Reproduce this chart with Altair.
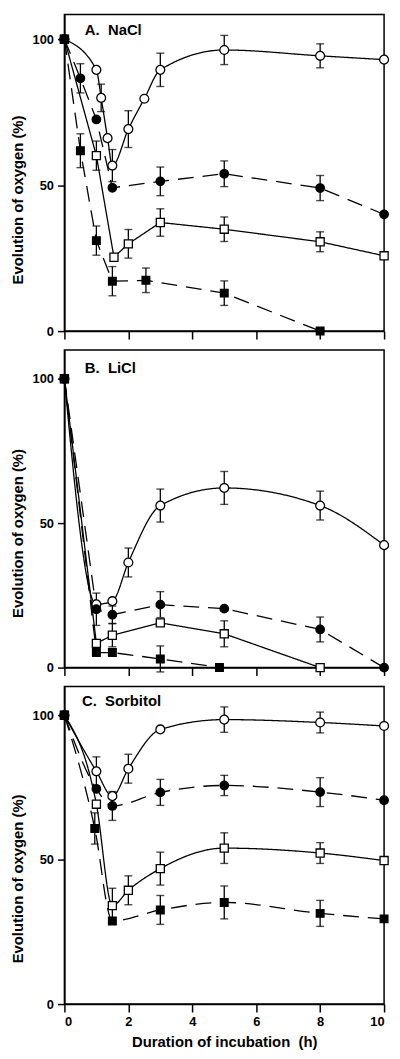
import altair as alt
import pandas as pd

FONT = "Liberation Sans"
SERIES = ["oc", "fc", "os", "fs"]  # open circle, filled circle, open square, filled square

# ---------------- Panel A: NaCl ----------------
A_oc_x = [0, 1, 1.15, 1.35, 1.5, 2, 2.5, 3, 5, 8, 10]
A_oc_y = [100, 89.5, 79.9, 66.1, 56.7, 69.2, 79.6, 89.5, 96.3, 94.3, 93]
A_oc_e = [None, None, 4.7, None, 5.5, 6.3, None, 5.7, 5, 4.1, None]

A_fc_x = [0, 0.5, 1, 1.5, 3, 5, 8, 10]
A_fc_y = [100, 86.6, 72.5, 49.1, 51.3, 53.9, 49, 40]
A_fc_e = [None, 5, None, None, 4.9, 4.4, 4.3, None]

A_os_x = [0, 1, 1.55, 2, 3, 5, 8, 10]
A_os_y = [100, 60.1, 25.3, 29.9, 37.2, 34.9, 30.6, 25.8]
A_os_e = [None, 5, None, 4.9, 4.7, 4.2, 3.4, None]

A_fs_x = [0, 0.5, 1, 1.5, 2.55, 5, 8]
A_fs_y = [100, 61.8, 31, 17.1, 17.4, 13, 0]
A_fs_e = [None, 5.8, 5, 5, 4.2, 4.2, None]

# ---------------- Panel B: LiCl ----------------
B_oc_x = [0, 1, 1.5, 2, 3, 5, 8, 10]
B_oc_y = [100, 21.9, 23, 36.4, 56.1, 62.2, 56.1, 42.4]
B_oc_e = [None, None, None, 5, 5.7, 5.7, 5, None]

B_fc_x = [0, 1, 1.5, 3, 5, 8, 10]
B_fc_y = [100, 20.2, 18.3, 21.8, 20.4, 13.2, 0]
B_fc_e = [None, 5.6, 3, 4.5, None, 4.3, None]

B_os_x = [0, 1, 1.5, 3, 5, 8]
B_os_y = [100, 8.4, 11.2, 15.5, 11.7, 0]
B_os_e = [None, None, 4, None, 4.5, None]

B_fs_x = [0, 1, 1.5, 3, 4.85]
B_fs_y = [100, 5.2, 5.2, 3, 0]
B_fs_e = [None, None, None, 4.5, None]

# ---------------- Panel C: Sorbitol ----------------
C_oc_x = [0, 1, 1.5, 2, 3, 5, 8, 10]
C_oc_y = [100, 80.6, 72, 81.5, 95.1, 98.5, 97.5, 96.3]
C_oc_e = [None, 5, None, 5, None, 4.4, 3.6, None]

C_fc_x = [0, 1, 1.5, 3, 5, 8, 10]
C_fc_y = [100, 74.5, 68.6, 73.3, 75.7, 73.4, 70.6]
C_fc_e = [None, None, 5, 4.5, 3.5, 5, None]

C_os_x = [0, 1, 1.5, 2, 3, 5, 8, 10]
C_os_y = [100, 69.2, 34.1, 39.4, 46.9, 54, 52.3, 49.7]
C_os_e = [None, None, 6, 5, 5.7, 5.3, 3.6, None]

C_fs_x = [0, 0.95, 1.5, 3, 5, 8, 10]
C_fs_y = [100, 60.8, 28.8, 32.6, 35.2, 31.4, 29.5]
C_fs_e = [None, 5.4, None, 5, 5.7, 4.5, None]

PANEL_LABELS = ["A.\u00a0 NaCl", "B.\u00a0 LiCl", "C.\u00a0 Sorbitol"]
LABEL_X = [0.64, 0.64, 0.55]
LABEL_Y = [103.2, 103.6, 104.8]

X_TICKS = [0, 2, 4, 6, 8, 10]
Y_TICKS = [0, 50, 100]


def build(series_data):
    rows = []
    for s, (xs, ys, es) in series_data.items():
        for x, y, e in zip(xs, ys, es):
            rows.append({
                "series": s, "h": x, "v": y,
                "lo": (y - e) if e is not None else None,
                "hi": (y + e) if e is not None else None,
            })
    return pd.DataFrame(rows)


def panel(df, label_idx, ymax, height, interp, show_x, title_y):
    x_axis = alt.Axis(values=X_TICKS, grid=False, tickSize=8, labels=show_x, labelFontSize=13,
                      labelFontWeight="bold", labelPadding=4, titleFontSize=15,
                      titleFontWeight="bold", titlePadding=6,
                      title="Duration of incubation\u00a0 (h)" if show_x else None)
    y_axis = alt.Axis(values=Y_TICKS, grid=False, tickSize=7, labelFontSize=13,
                      labelFontWeight="bold", labelPadding=4,
                      title="Evolution of oxygen (%)", titleFontSize=15,
                      titleFontWeight="bold", titleAngle=270, titleX=-47, titleY=title_y,
                      titleAlign="center", titleBaseline="middle")
    X = alt.X("h:Q", scale=alt.Scale(domain=[0, 10], nice=False), axis=x_axis)
    Y = alt.Y("v:Q", scale=alt.Scale(domain=[0, ymax], nice=False), axis=y_axis)

    base = alt.Chart(df)
    layers = []
    for s in SERIES:
        dash = [16, 9] if s in ("fc", "fs") else [1, 0]
        layers.append(
            base.transform_filter(alt.datum.series == s)
            .mark_line(color="black", strokeWidth=1.3, strokeDash=dash,
                       interpolate=interp[s], clip=False)
            .encode(x=X, y=Y)
        )
    err = base.transform_filter("datum.lo != null")
    layers.append(err.mark_rule(color="black", strokeWidth=1.3)
                  .encode(x="h:Q", y="lo:Q", y2="hi:Q"))
    layers.append(err.mark_tick(orient="horizontal", color="black", size=8, thickness=1.4)
                  .encode(x="h:Q", y="lo:Q"))
    layers.append(err.mark_tick(orient="horizontal", color="black", size=8, thickness=1.4)
                  .encode(x="h:Q", y="hi:Q"))
    layers.append(
        base.mark_point(stroke="black", strokeWidth=1.3, opacity=1, fillOpacity=1)
        .encode(
            x="h:Q", y="v:Q",
            shape=alt.Shape("series:N", scale=alt.Scale(domain=SERIES,
                            range=["circle", "circle", "square", "square"]), legend=None),
            fill=alt.Fill("series:N", scale=alt.Scale(domain=SERIES,
                          range=["white", "black", "white", "black"]), legend=None),
            size=alt.Size("series:N", scale=alt.Scale(domain=SERIES,
                          range=[80, 60, 95, 105]), legend=None),
        )
    )
    lab = pd.DataFrame({"t": [PANEL_LABELS[label_idx]], "h": [LABEL_X[label_idx]],
                        "v": [LABEL_Y[label_idx]]})
    layers.append(
        alt.Chart(lab).mark_text(align="left", baseline="middle", font=FONT,
                                 fontSize=15, fontWeight="bold", color="black")
        .encode(x="h:Q", y="v:Q", text="t:N")
    )
    return alt.layer(*layers).properties(width=323, height=height)


dfA = build({"oc": (A_oc_x, A_oc_y, A_oc_e), "fc": (A_fc_x, A_fc_y, A_fc_e),
             "os": (A_os_x, A_os_y, A_os_e), "fs": (A_fs_x, A_fs_y, A_fs_e)})
dfB = build({"oc": (B_oc_x, B_oc_y, B_oc_e), "fc": (B_fc_x, B_fc_y, B_fc_e),
             "os": (B_os_x, B_os_y, B_os_e), "fs": (B_fs_x, B_fs_y, B_fs_e)})
dfC = build({"oc": (C_oc_x, C_oc_y, C_oc_e), "fc": (C_fc_x, C_fc_y, C_fc_e),
             "os": (C_os_x, C_os_y, C_os_e), "fs": (C_fs_x, C_fs_y, C_fs_e)})

interpA = {"oc": "monotone", "fc": "linear", "os": "linear", "fs": "linear"}
interpB = {"oc": "monotone", "fc": "linear", "os": "linear", "fs": "linear"}
interpC = {"oc": "monotone", "fc": "monotone", "os": "monotone", "fs": "monotone"}

pA = panel(dfA, 0, 108.5, 320, interpA, False, 187)
pB = panel(dfB, 1, 110, 321, interpB, False, 185)
pC = panel(dfC, 2, 110, 321, interpC, True, 194)

chart = (
    alt.vconcat(pA, pB, pC, spacing=8)
    .resolve_scale(y="independent")
    .properties(padding={"left": 2, "top": 0, "right": 0, "bottom": 0},
                background="white")
    .configure_view(stroke="black", strokeWidth=1.5)
    .configure_axis(grid=False, domainColor="black", domainWidth=1.5, tickColor="black",
                    tickWidth=1.5, labelColor="black", titleColor="black",
                    labelFont=FONT, titleFont=FONT)
)

chart.save("out.html", embed_options={"renderer": "svg", "actions": False})
